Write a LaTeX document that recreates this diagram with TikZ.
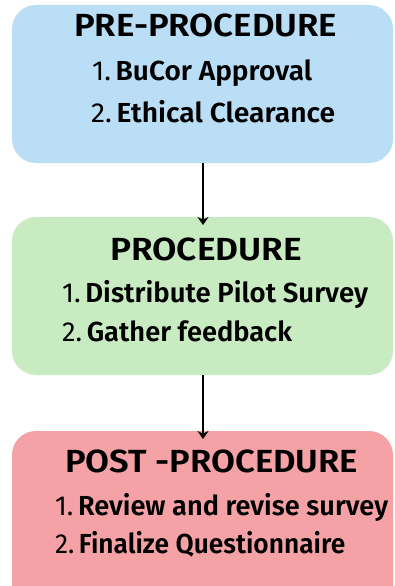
\documentclass[tikz,border=0pt]{standalone}
\usepackage{fontspec}
\setmainfont{Fira Sans}[BoldFont={Fira Sans SemiBold}]
\usetikzlibrary{arrows.meta}
\definecolor{preblue}{RGB}{185,222,246}
\definecolor{procgreen}{RGB}{200,235,194}
\definecolor{postred}{RGB}{244,162,165}
\newcommand{\fitw}[2]{\resizebox{#1pt}{\height}{#2}}
\tikzset{
  stagebox/.style={rounded corners=24pt},
  ttl/.style={anchor=base west, inner sep=0pt, font=\bfseries\fontsize{32}{32}\selectfont},
  item/.style={anchor=base west, inner sep=0pt, font=\fontsize{27.5}{27.5}\selectfont},
  flow/.style={line width=2.1pt, -{Stealth[length=8pt,width=11pt]}}
}
\begin{document}
\begin{tikzpicture}[x=1pt,y=-1pt]
\useasboundingbox (0,0) rectangle (394,586);
\fill[white] (0,0) rectangle (394,586);
\begin{scope}
\clip (0,0) rectangle (394,586);
\fill[preblue, stagebox] (12,5) rectangle (393,163);
\fill[procgreen, stagebox] (12,217) rectangle (393,375);
\fill[postred, stagebox] (12,431) rectangle (393,620);
\end{scope}
\coordinate (b1) at (203,163);
\coordinate (t2) at (203,225);
\coordinate (b2) at (203,375);
\coordinate (t3) at (203,439);
\node[ttl] (pre) at (74,37) {\fitw{263}{PRE-PROCEDURE}};
\node[item] (pre1) at (92,80) {\fitw{220}{1.\,\textbf{BuCor Approval}}};
\node[item] (pre2) at (91,122) {\fitw{244}{2.\,\textbf{Ethical Clearance}}};
\node[ttl] (proc) at (110,260) {\fitw{192}{PROCEDURE}};
\node[item] (proc1) at (62,302) {\fitw{306}{1.\,\textbf{Distribute Pilot Survey}}};
\node[item] (proc2) at (62,341) {\fitw{230}{2.\,\textbf{Gather feedback}}};
\node[ttl] (post) at (65,472) {\fitw{293}{POST -PROCEDURE}};
\node[item] (post1) at (55,515) {\fitw{333}{1.\,\textbf{Review and revise survey}}};
\node[item] (post2) at (55,553) {\fitw{290}{2.\,\textbf{Finalize Questionnaire}}};
\draw[flow] (b1) -- (t2);
\draw[flow] (b2) -- (t3);
\end{tikzpicture}
\end{document}
